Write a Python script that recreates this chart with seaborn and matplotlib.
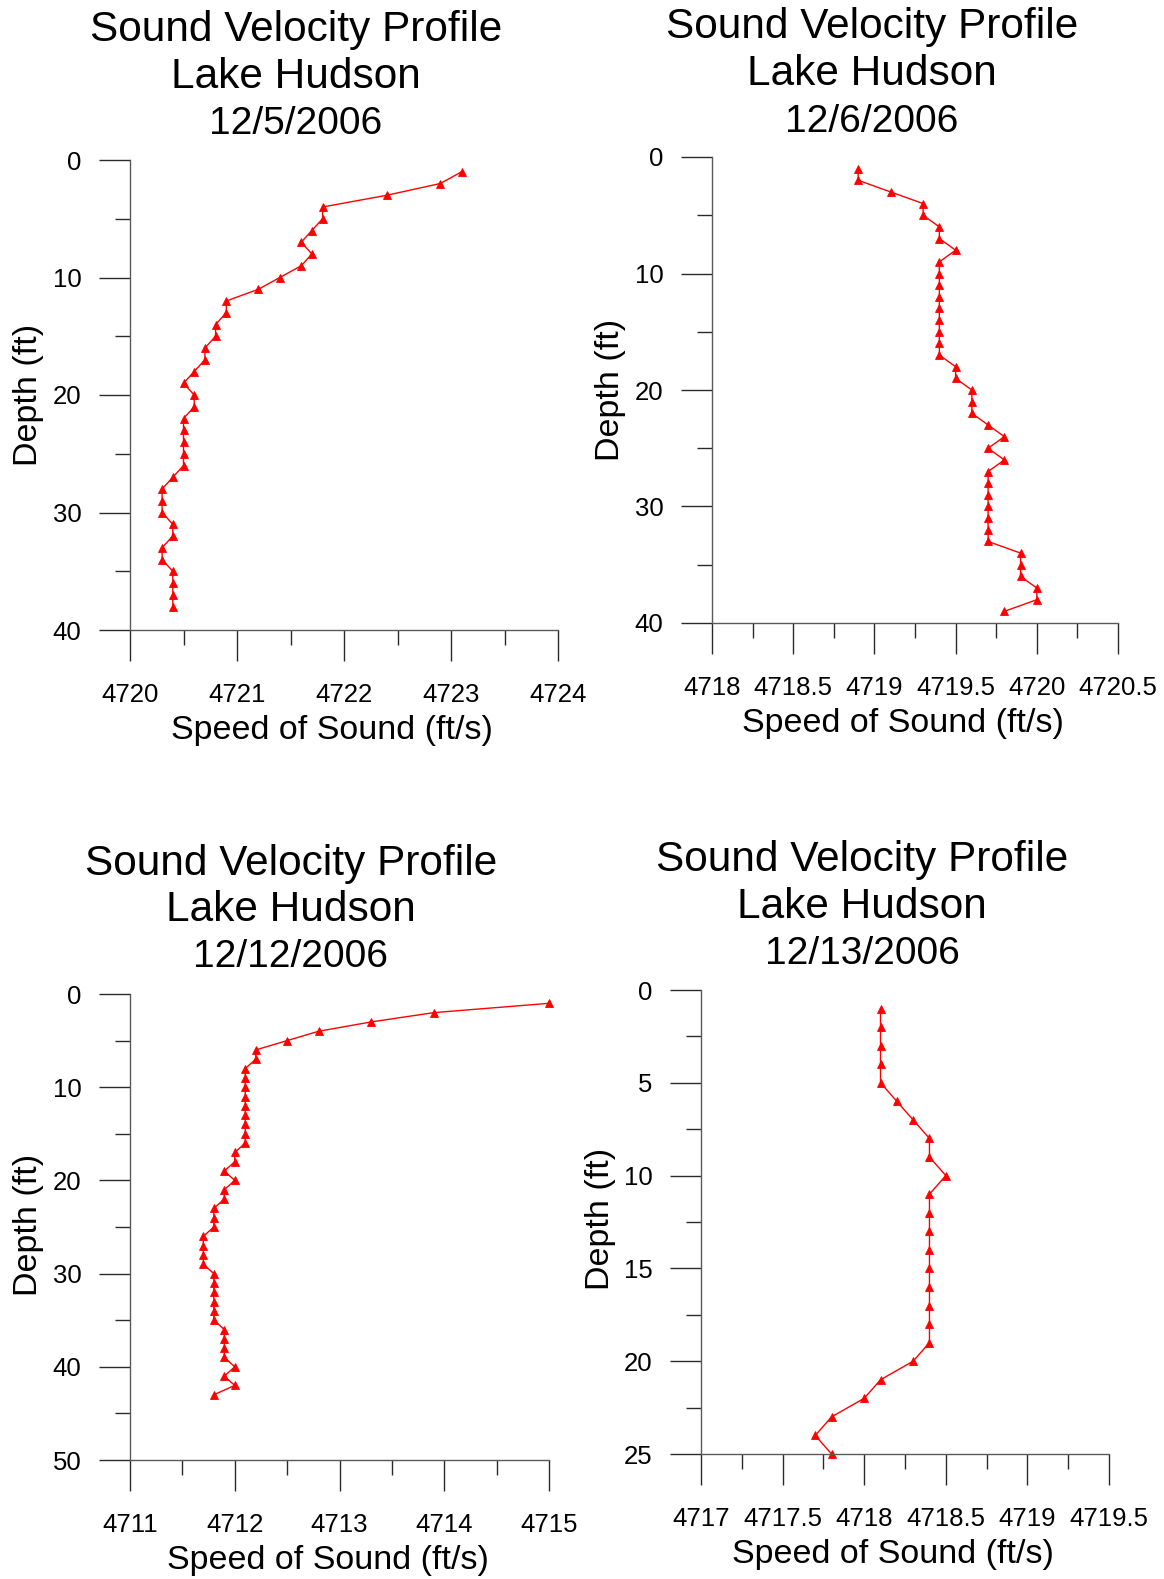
import matplotlib
matplotlib.use("Agg")
import matplotlib.pyplot as plt
from matplotlib.ticker import MultipleLocator, FuncFormatter
import seaborn as sns
import pandas as pd

# ---------------- data ----------------
titles = ["12/5/2006", "12/6/2006", "12/12/2006", "12/13/2006"]
title_lines = ["Sound Velocity Profile", "Lake Hudson"]
x_label = "Speed of Sound (ft/s)"
y_label = "Depth (ft)"

depth_dec5 = list(range(1, 39))
speed_dec5 = [4723.1, 4722.9, 4722.4, 4721.8, 4721.8, 4721.7, 4721.6, 4721.7, 4721.6, 4721.4,
              4721.2, 4720.9, 4720.9, 4720.8, 4720.8, 4720.7, 4720.7, 4720.6, 4720.5, 4720.6,
              4720.6, 4720.5, 4720.5, 4720.5, 4720.5, 4720.5, 4720.4, 4720.3, 4720.3, 4720.3,
              4720.4, 4720.4, 4720.3, 4720.3, 4720.4, 4720.4, 4720.4, 4720.4]

depth_dec6 = list(range(1, 40))
speed_dec6 = [4718.9, 4718.9, 4719.1, 4719.3, 4719.3, 4719.4, 4719.4, 4719.5, 4719.4, 4719.4,
              4719.4, 4719.4, 4719.4, 4719.4, 4719.4, 4719.4, 4719.4, 4719.5, 4719.5, 4719.6,
              4719.6, 4719.6, 4719.7, 4719.8, 4719.7, 4719.8, 4719.7, 4719.7, 4719.7, 4719.7,
              4719.7, 4719.7, 4719.7, 4719.9, 4719.9, 4719.9, 4720.0, 4720.0, 4719.8]

depth_dec12 = list(range(1, 44))
speed_dec12 = [4715.0, 4713.9, 4713.3, 4712.8, 4712.5, 4712.2, 4712.2, 4712.1, 4712.1, 4712.1,
               4712.1, 4712.1, 4712.1, 4712.1, 4712.1, 4712.1, 4712.0, 4712.0, 4711.9, 4712.0,
               4711.9, 4711.9, 4711.8, 4711.8, 4711.8, 4711.7, 4711.7, 4711.7, 4711.7, 4711.8,
               4711.8, 4711.8, 4711.8, 4711.8, 4711.8, 4711.9, 4711.9, 4711.9, 4711.9, 4712.0,
               4711.9, 4712.0, 4711.8]

depth_dec13 = list(range(1, 26))
speed_dec13 = [4718.1, 4718.1, 4718.1, 4718.1, 4718.1, 4718.2, 4718.3, 4718.4, 4718.4, 4718.5,
               4718.4, 4718.4, 4718.4, 4718.4, 4718.4, 4718.4, 4718.4, 4718.4, 4718.4, 4718.3,
               4718.1, 4718.0, 4717.8, 4717.7, 4717.8]

x_limits = [(4720, 4724), (4718, 4720.5), (4711, 4715), (4717, 4719.5)]
x_major = [1, 0.5, 1, 0.5]
x_minor = [0.5, 0.25, 0.5, 0.25]
y_limits = [(40, 0), (40, 0), (50, 0), (25, 0)]
y_major = [10, 10, 10, 5]
y_minor = [5, 5, 5, 2.5]

# ---------------- layout (pixels) ----------------
W, H = 1164, 1579
axes_px = [(130, 160, 558, 630), (712, 157, 1118, 623),
           (130, 994, 549, 1460), (701, 990, 1109, 1454)]
title_px = [(296, [41, 88, 134]), (872, [38, 85, 132]),
            (291, [875, 921, 967]), (862, [871, 918, 964])]
xlabel_px = [(332, 731), (903, 724), (328, 1560), (893, 1555)]
ylabel_px = [(29, 395), (611, 390), (29, 1225), (600, 1219)]
title_sizes = [30.5, 30.5, 28.0]

sns.set_style("ticks")
plt.rcParams["font.family"] = ["Liberation Sans", "DejaVu Sans"]
plt.rcParams["text.color"] = "black"
plt.rcParams["axes.labelcolor"] = "black"
plt.rcParams["xtick.labelcolor"] = "black"
plt.rcParams["ytick.labelcolor"] = "black"

fig = plt.figure(figsize=(W / 100, H / 100), dpi=100)

series = [(speed_dec5, depth_dec5), (speed_dec6, depth_dec6),
          (speed_dec12, depth_dec12), (speed_dec13, depth_dec13)]

fmt = FuncFormatter(lambda v, p: f"{v:g}")
line_col = "#2a2a2a"

for i, (spd, dep) in enumerate(series):
    l, t, r, b = axes_px[i]
    ax = fig.add_axes([l / W, 1 - b / H, (r - l) / W, (b - t) / H])
    df = pd.DataFrame({"speed": spd, "depth": dep})
    sns.lineplot(data=df, x="speed", y="depth", sort=False, estimator=None,
                 color="#ff0000", linewidth=1.0, marker="^", markersize=6,
                 markeredgecolor="#ff0000", markeredgewidth=0.6, clip_on=False, ax=ax)
    ax.set_xlim(*x_limits[i])
    ax.set_ylim(*y_limits[i])
    ax.xaxis.set_major_locator(MultipleLocator(x_major[i]))
    ax.xaxis.set_minor_locator(MultipleLocator(x_minor[i]))
    ax.yaxis.set_major_locator(MultipleLocator(y_major[i]))
    ax.yaxis.set_minor_locator(MultipleLocator(y_minor[i]))
    ax.xaxis.set_major_formatter(fmt)
    ax.yaxis.set_major_formatter(fmt)
    for s in ["top", "right"]:
        ax.spines[s].set_visible(False)
    for s in ["left", "bottom"]:
        ax.spines[s].set_color("#5a5a5a")
        ax.spines[s].set_linewidth(1.0)
    ax.tick_params(axis="both", which="major", direction="out", length=22, width=1.0,
                   color=line_col, labelsize=18.5, labelcolor="black")
    ax.tick_params(axis="both", which="minor", direction="out", length=11, width=1.0,
                   color=line_col)
    ax.tick_params(axis="x", which="major", pad=16)
    ax.tick_params(axis="y", which="major", pad=13)

    ax.set_xlabel(x_label, fontsize=24.5, va="center", ha="center", color="black")
    ax.set_ylabel(y_label, fontsize=24.5, va="center", ha="center", color="black")
    xl, yl = xlabel_px[i]
    ax.xaxis.set_label_coords((xl - l) / (r - l), (b - yl) / (b - t))
    xl, yl = ylabel_px[i]
    ax.yaxis.set_label_coords((xl - l) / (r - l), (b - yl) / (b - t))

    tx, tys = title_px[i]
    lines = title_lines + [titles[i]]
    for line, ty, fs in zip(lines, tys, title_sizes):
        fig.text(tx / W, 1 - ty / H, line, fontsize=fs, ha="center", va="baseline",
                 color="black")

fig.savefig("out.png", dpi=100, facecolor="white")
